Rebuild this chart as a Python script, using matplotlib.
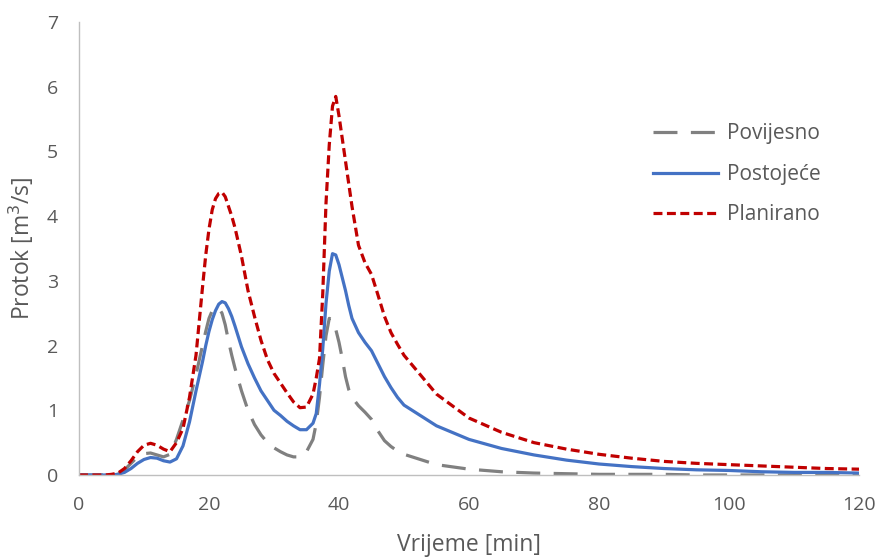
import matplotlib
matplotlib.use("Agg")
import matplotlib.pyplot as plt

plt.rcParams['font.family'] = ['Open Sans', 'DejaVu Sans']

# Time axis [min]: 1-min steps, half-minute steps around both peaks, 5-min steps in the tail
time_min = [0, 1, 2, 3, 4, 5, 6, 7, 8, 9, 10, 11, 12, 13, 14, 15, 16, 17, 18, 19,
            19.5, 20, 20.5, 21, 21.5, 22, 22.5, 23, 23.5, 24,
            25, 26, 27, 28, 29, 30, 31, 32, 33, 34, 35, 36,
            36.5, 37, 37.5, 38, 38.5, 39, 39.5, 40, 40.5, 41, 41.5, 42,
            43, 44, 45, 46, 47, 48, 49, 50,
            55, 60, 65, 70, 75, 80, 85, 90, 95, 100, 105, 110, 115, 120]

# Discharge [m3/s]
povijesno = [0, 0, 0, 0, 0, 0, 0.01, 0.08, 0.18, 0.28, 0.33, 0.34, 0.31, 0.28, 0.32, 0.55,
             0.85, 1.15, 1.55, 2.0,
             2.22, 2.42, 2.54, 2.59, 2.58, 2.5, 2.32, 2.07, 1.85, 1.65,
             1.3, 1.0, 0.78, 0.62, 0.5, 0.42, 0.36, 0.31, 0.28, 0.28, 0.36, 0.55,
             0.8, 1.2, 1.7, 2.15, 2.42, 2.4, 2.25, 2.05, 1.8, 1.52, 1.32, 1.2,
             1.07, 0.97, 0.86, 0.68, 0.53, 0.44, 0.37, 0.32,
             0.16, 0.09, 0.05, 0.03, 0.02, 0.01, 0.01, 0.01, 0.0, 0.0, 0.0, 0.0, 0.0, 0.0]

postojece = [0, 0, 0, 0, 0, 0, 0.01, 0.04, 0.1, 0.18, 0.24, 0.27, 0.26, 0.22, 0.2, 0.25,
             0.45, 0.82, 1.3, 1.75,
             2.0, 2.22, 2.4, 2.54, 2.64, 2.68, 2.66, 2.57, 2.45, 2.3,
             1.98, 1.72, 1.5, 1.3, 1.15, 1.0, 0.92, 0.83, 0.76, 0.7, 0.7, 0.8,
             0.95, 1.4, 1.95, 2.65, 3.15, 3.42, 3.4, 3.25, 3.05, 2.85, 2.62, 2.42,
             2.2, 2.05, 1.92, 1.72, 1.52, 1.35, 1.2, 1.08,
             0.76, 0.55, 0.41, 0.31, 0.23, 0.17, 0.13, 0.1, 0.08, 0.07, 0.05, 0.04, 0.04, 0.03]

planirano = [0, 0, 0, 0, 0, 0.01, 0.03, 0.1, 0.22, 0.36, 0.46, 0.49, 0.46, 0.4, 0.36, 0.5,
             0.72, 1.2, 1.85, 2.9,
             3.4, 3.8, 4.1, 4.27, 4.35, 4.37, 4.3, 4.15, 4.0, 3.82,
             3.38, 2.85, 2.45, 2.08, 1.78, 1.57, 1.42, 1.27, 1.13, 1.04, 1.05, 1.25,
             1.5, 1.8, 2.8, 4.2, 5.1, 5.7, 5.85, 5.55, 5.2, 4.85, 4.5, 4.15,
             3.55, 3.28, 3.1, 2.78, 2.45, 2.2, 2.02, 1.85,
             1.25, 0.88, 0.66, 0.5, 0.4, 0.32, 0.26, 0.21, 0.18, 0.16, 0.14, 0.12, 0.1, 0.09]

series_labels = ["Povijesno", "Postojeće", "Planirano"]
x_ticks = [0, 20, 40, 60, 80, 100, 120]
y_ticks = [0, 1, 2, 3, 4, 5, 6, 7]

text_color = "#595959"
lw = 2.3

fig = plt.figure(figsize=(8.82, 5.58), dpi=100)
ax = fig.add_axes([79 / 882, 1 - 475 / 558, (859 - 79) / 882, (475 - 22) / 558])

ax.plot(time_min, povijesno, color="#808080", lw=lw, dashes=(7.5, 4.2),
        label=series_labels[0], dash_capstyle="butt", dash_joinstyle="round")
ax.plot(time_min, postojece, color="#4472C4", lw=lw, solid_joinstyle="round",
        label=series_labels[1])
ax.plot(time_min, planirano, color="#C00000", lw=lw, dashes=(2.8, 1.4),
        label=series_labels[2], dash_capstyle="butt", dash_joinstyle="round")

ax.set_xlim(0, 120)
ax.set_ylim(0, 7)
ax.set_xticks(x_ticks)
ax.set_yticks(y_ticks)

for side in ("top", "right"):
    ax.spines[side].set_visible(False)
for side in ("left", "bottom"):
    ax.spines[side].set_color("#BFBFBF")
    ax.spines[side].set_linewidth(1.0)

ax.tick_params(axis="both", length=0, labelsize=14, labelcolor=text_color, pad=15)

ax.set_xlabel("Vrijeme [min]", fontsize=16.5, color=text_color, labelpad=14)
ax.set_ylabel("Protok [m$^3$/s]", fontsize=16.5, color=text_color, labelpad=8)

leg = ax.legend(loc="upper left", bbox_to_anchor=(0.736, 0.776), frameon=False,
                fontsize=15, handlelength=3.1, handletextpad=0.45, labelspacing=0.93,
                borderpad=0, borderaxespad=0)
for t in leg.get_texts():
    t.set_color(text_color)

fig.savefig("out.png", dpi=100)
